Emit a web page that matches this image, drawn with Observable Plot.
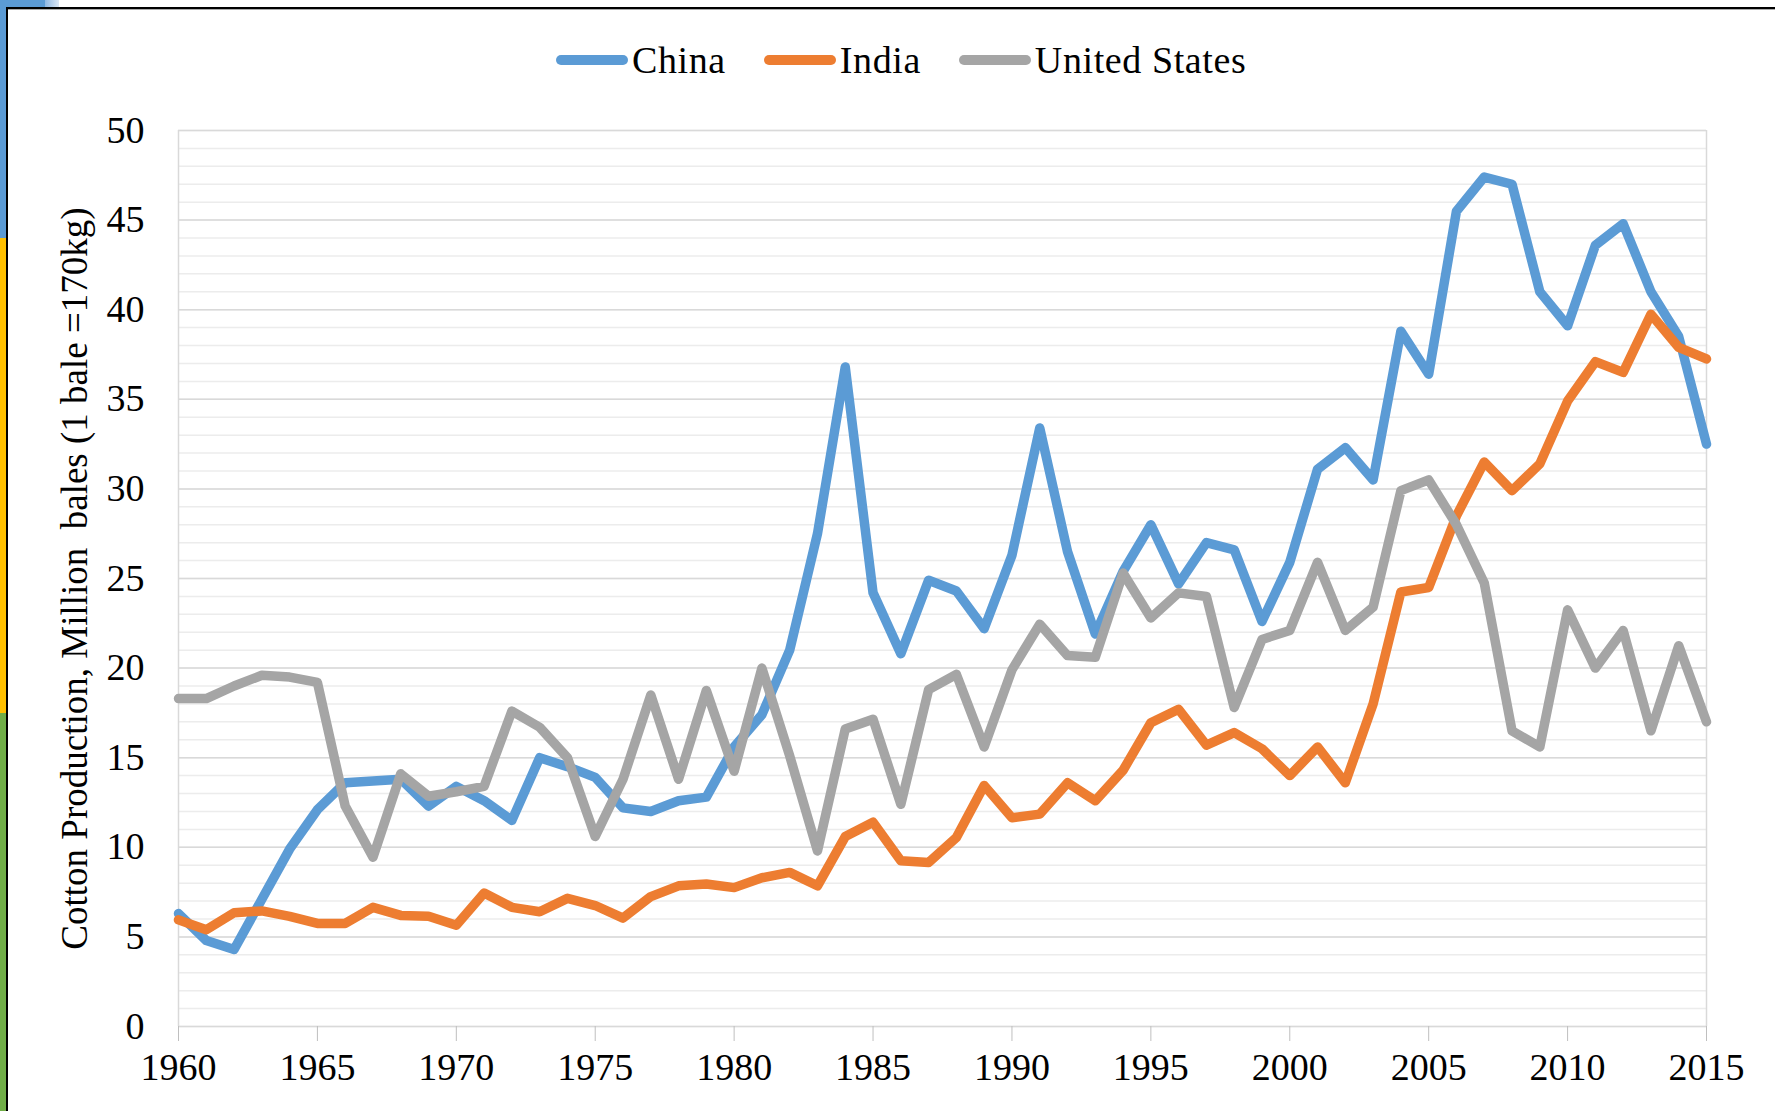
<!DOCTYPE html>
<html>
<head>
<meta charset="utf-8">
<script src="https://cdn.jsdelivr.net/npm/d3@7"></script>
<script src="https://cdn.jsdelivr.net/npm/@observablehq/plot@0.6"></script>
<style>
  html, body { margin: 0; padding: 0; background: #fff; }
  #wrap { position: relative; width: 1775px; height: 1111px; overflow: hidden; background: #fff;
          font-family: "Liberation Serif", "Times New Roman", serif; }
  #legend { position: absolute; top: 38px; left: 556px; height: 44px; display: flex; align-items: center;
            font-size: 38px; letter-spacing: 0.6px; color: #000; white-space: nowrap; }
  .item { display: flex; align-items: center; margin-right: 38px; }
  .sw { width: 72px; height: 10px; border-radius: 5px; margin-right: 4px; }
  #chart { position: absolute; top: 105px; left: 0; }
  .deco { position: absolute; }
</style>
</head>
<body>
<div id="wrap">
  <div class="deco" style="left:0;top:0;width:6px;height:238px;background:#5b9bd5"></div>
  <div class="deco" style="left:0;top:238px;width:6px;height:475px;background:#ffc000"></div>
  <div class="deco" style="left:0;top:713px;width:6px;height:398px;background:#70ad47"></div>
  <div class="deco" style="left:0;top:0;width:45px;height:7px;background:#5b9bd5"></div>
  <div class="deco" style="left:45px;top:0;width:14px;height:7px;background:linear-gradient(to right,#8fb8e3,#dbe7f5)"></div>
  <div class="deco" style="left:6px;top:7px;right:0;height:2px;background:#000"></div>
  <div class="deco" style="left:8px;top:9px;right:0;height:1px;background:#aaa"></div>
  <div class="deco" style="left:6px;top:7px;width:2px;bottom:0;background:#000"></div>
  <div id="legend"></div>
  <div id="chart"></div>
</div>
<script>
const years = [1960,1961,1962,1963,1964,1965,1966,1967,1968,1969,
               1970,1971,1972,1973,1974,1975,1976,1977,1978,1979,
               1980,1981,1982,1983,1984,1985,1986,1987,1988,1989,
               1990,1991,1992,1993,1994,1995,1996,1997,1998,1999,
               2000,2001,2002,2003,2004,2005,2006,2007,2008,2009,
               2010,2011,2012,2013,2014,2015];
const china = [6.3,4.8,4.3,7.1,9.9,12.1,13.6,13.7,13.8,12.3,
               13.4,12.6,11.5,15.0,14.5,13.9,12.2,12.0,12.6,12.8,
               15.6,17.4,21.0,27.5,36.8,24.2,20.8,24.9,24.3,22.2,
               26.3,33.4,26.5,21.9,25.4,28.0,24.7,27.0,26.6,22.6,
               25.9,31.1,32.3,30.5,38.8,36.4,45.5,47.4,47.0,41.0,
               39.1,43.6,44.8,41.0,38.5,32.5];
const india = [5.95,5.4,6.35,6.45,6.15,5.75,5.75,6.65,6.2,6.15,
               5.65,7.45,6.65,6.4,7.15,6.75,6.05,7.25,7.85,7.95,
               7.75,8.3,8.6,7.85,10.6,11.4,9.25,9.15,10.55,13.45,
               11.65,11.85,13.6,12.6,14.3,16.95,17.7,15.7,16.4,15.5,
               14.0,15.6,13.6,18.0,24.25,24.5,28.5,31.5,29.9,31.4,
               34.9,37.1,36.5,39.75,37.9,37.25];
const unitedStates = [18.3,18.3,19.0,19.6,19.5,19.2,12.3,9.45,14.1,12.85,
               13.1,13.4,17.6,16.7,15.0,10.6,13.8,18.5,13.8,18.75,
               14.25,20.0,15.1,9.8,16.6,17.15,12.4,18.8,19.65,15.6,
               19.9,22.45,20.7,20.6,25.3,22.8,24.2,24.0,17.8,21.6,
               22.1,25.9,22.1,23.4,29.9,30.5,28.0,24.75,16.5,15.6,
               23.25,20.0,22.1,16.5,21.25,17.0];
const seriesNames = ["China", "India", "United States"];
const seriesColors = ["#5b9bd5", "#ed7d31", "#a5a5a5"];
const yTicks = [0,5,10,15,20,25,30,35,40,45,50];
const yMinor = [0,1,2,3,4,5,6,7,8,9,10,11,12,13,14,15,16,17,18,19,20,21,22,23,24,25,
                26,27,28,29,30,31,32,33,34,35,36,37,38,39,40,41,42,43,44,45,46,47,48,49,50];
const xTicks = [1960,1965,1970,1975,1980,1985,1990,1995,2000,2005,2010,2015];
const yLabel = "Cotton Production, Million  bales (1 bale =170kg)";

const seriesValues = [china, india, unitedStates];
const data = [];
seriesNames.forEach((name, s) => {
  years.forEach((yr, i) => data.push({year: yr, value: seriesValues[s][i], series: name}));
});

// legend
const legend = document.getElementById("legend");
seriesNames.forEach((name, i) => {
  const it = document.createElement("div");
  it.className = "item";
  const sw = document.createElement("div");
  sw.className = "sw";
  sw.style.background = seriesColors[i];
  const tx = document.createElement("span");
  tx.textContent = name;
  it.appendChild(sw); it.appendChild(tx);
  legend.appendChild(it);
});

const chart = Plot.plot({
  width: 1775,
  height: 1006,
  marginTop: 25,
  marginBottom: 85,
  marginLeft: 178,
  marginRight: 69,
  style: {fontFamily: '"Liberation Serif", "Times New Roman", serif', fontSize: "38px", color: "#000", background: "transparent"},
  x: {domain: [1960, 2015]},
  y: {domain: [0, 50]},
  color: {domain: seriesNames, range: seriesColors},
  marks: [
    Plot.ruleY(yMinor, {stroke: "#ececec", strokeWidth: 1.5}),
    Plot.ruleY(yTicks, {stroke: "#d9d9d9", strokeWidth: 1.5}),
    Plot.ruleX([1960, 2015], {stroke: "#d9d9d9", strokeWidth: 1.5}),
    Plot.line(data, {x: "year", y: "value", z: "series", stroke: "series", strokeWidth: 9.5,
                     strokeLinejoin: "round", strokeLinecap: "round"}),
    Plot.axisX(xTicks, {tickSize: 15, tickPadding: 12, tickFormat: d => String(d), stroke: "#bfbfbf",
                        strokeOpacity: 1, fontSize: 38, label: null}),
    Plot.axisY(yTicks, {tickSize: 0, tickPadding: 34, fontSize: 38, label: yLabel, labelAnchor: "center",
                        labelArrow: "none", labelOffset: 118})
  ]
});
document.getElementById("chart").appendChild(chart);
chart.querySelectorAll("text").forEach(t => t.style.whiteSpace = "pre");
const lab = chart.querySelector('g[aria-label="y-axis label"]');
if (lab) lab.setAttribute("font-size", "37");
</script>
</body>
</html>
